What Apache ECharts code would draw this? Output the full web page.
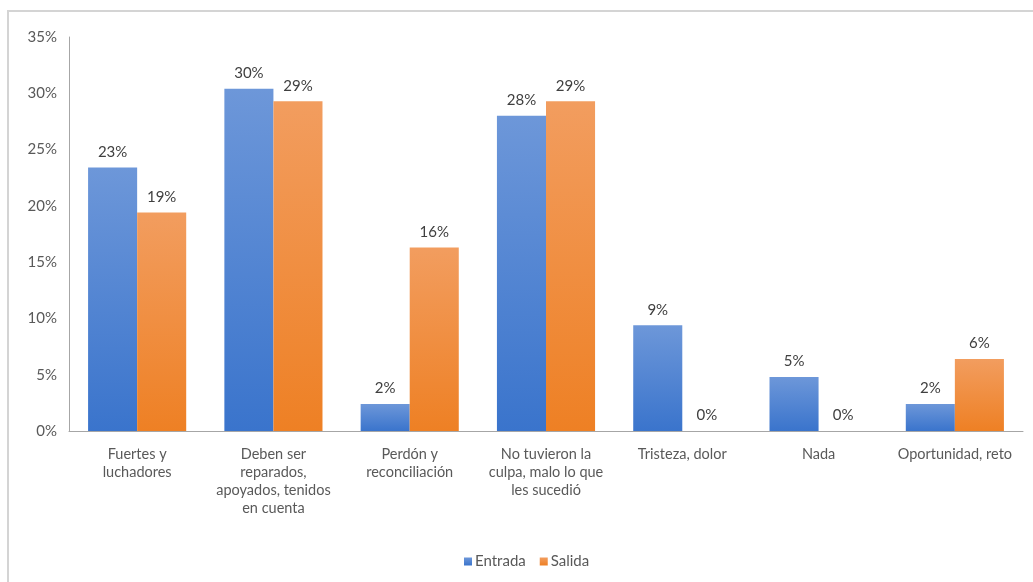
<!DOCTYPE html>
<html>
<head>
<meta charset="utf-8">
<script src="https://cdn.jsdelivr.net/npm/echarts@6/dist/echarts.min.js"></script>
<style>
  html, body { margin: 0; padding: 0; background: #fff; }
  #chart { width: 1033px; height: 582px; }
</style>
</head>
<body>
<div id="chart"></div>
<script>
// Categories (answers) and percentage per group
const categories = [
  'Fuertes y\nluchadores',
  'Deben ser\nreparados,\napoyados, tenidos\nen cuenta',
  'Perdón y\nreconciliación',
  'No tuvieron la\nculpa, malo lo que\nles sucedió',
  'Tristeza, dolor',
  'Nada',
  'Oportunidad, reto'
];
const entrada = [23.4, 30.4, 2.4, 28.0, 9.4, 4.8, 2.4];
const salida  = [19.4, 29.3, 16.3, 29.3, 0, 0, 6.4];
const seriesNames = ['Entrada', 'Salida'];

const FONT = 'Lato, "Open Sans", sans-serif';

function grad(top, bottom) {
  return new echarts.graphic.LinearGradient(0, 0, 0, 1, [
    { offset: 0, color: top },
    { offset: 1, color: bottom }
  ]);
}

const barLabel = {
  show: true,
  position: 'top',
  distance: 8,
  color: '#404040',
  fontFamily: FONT,
  fontSize: 15,
  formatter: p => Math.round(p.value) + '%'
};

const chart = echarts.init(document.getElementById('chart'), null, { renderer: 'canvas' });
chart.setOption({
  animation: false,
  backgroundColor: '#ffffff',
  graphic: [{
    type: 'rect',
    shape: { x: 8, y: 11, width: 1040, height: 600 },
    style: { fill: 'none', stroke: '#d4d4d4', lineWidth: 2 },
    silent: true
  }],
  grid: { left: 69, right: 10, top: 37, bottom: 151, containLabel: false },
  legend: {
    data: seriesNames,
    left: 459,
    top: 549,
    itemWidth: 8,
    itemHeight: 8,
    itemGap: 14,
    icon: 'rect',
    textStyle: { color: '#595959', fontFamily: FONT, fontSize: 15, padding: [0, 0, 0, -2] }
  },
  xAxis: {
    type: 'category',
    data: categories,
    axisLine: { lineStyle: { color: '#a6a6a6', width: 1 } },
    axisTick: { show: false },
    axisLabel: {
      interval: 0,
      margin: 14,
      color: '#595959',
      fontFamily: FONT,
      fontSize: 14.5,
      lineHeight: 18,
      align: 'center'
    }
  },
  yAxis: {
    type: 'value',
    min: 0,
    max: 35,
    interval: 5,
    splitLine: { show: false },
    axisLine: { show: true, lineStyle: { color: '#a6a6a6', width: 1 } },
    axisTick: { show: false },
    axisLabel: {
      margin: 12,
      color: '#595959',
      fontFamily: FONT,
      fontSize: 15,
      formatter: v => v + '%'
    }
  },
  series: [
    {
      name: seriesNames[0],
      type: 'bar',
      data: entrada,
      barGap: '0%',
      barCategoryGap: '28%',
      itemStyle: { color: grad('#6d97d9', '#3a74cc') },
      label: barLabel
    },
    {
      name: seriesNames[1],
      type: 'bar',
      data: salida,
      itemStyle: { color: grad('#f29d5f', '#ee8024') },
      label: barLabel
    }
  ]
});
</script>
</body>
</html>
